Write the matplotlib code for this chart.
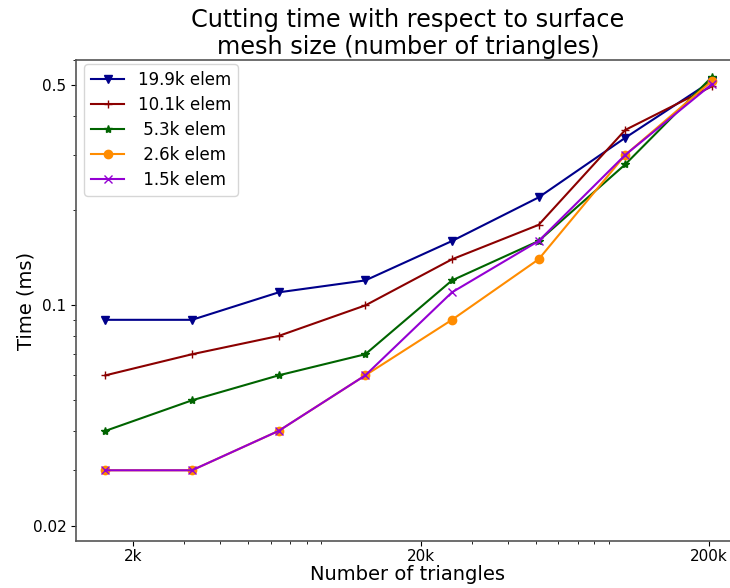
import matplotlib
matplotlib.use("Agg")
import matplotlib.pyplot as plt
from matplotlib.ticker import FixedLocator, FixedFormatter, NullFormatter

triangles = [1600, 3200, 6400, 12800, 25600, 51200, 102400, 204800]
labels = ["19.9k elem", "10.1k elem", " 5.3k elem", " 2.6k elem", " 1.5k elem"]
t_19_9k = [0.090, 0.090, 0.110, 0.120, 0.160, 0.220, 0.340, 0.515]
t_10_1k = [0.060, 0.070, 0.080, 0.100, 0.140, 0.180, 0.360, 0.495]
t_5_3k = [0.040, 0.050, 0.060, 0.070, 0.120, 0.160, 0.280, 0.530]
t_2_6k = [0.030, 0.030, 0.040, 0.060, 0.090, 0.140, 0.300, 0.515]
t_1_5k = [0.030, 0.030, 0.040, 0.060, 0.110, 0.160, 0.300, 0.503]
x_ticks = [2000, 20000, 200000]
x_ticklabels = ["2k", "20k", "200k"]
y_ticks = [0.02, 0.1, 0.5]
y_ticklabels = ["0.02", "0.1", "0.5"]

series = [t_19_9k, t_10_1k, t_5_3k, t_2_6k, t_1_5k]
colors = ["#00008B", "#8B0000", "#006400", "#FF8C00", "#9400D3"]
markers = ["v", "+", "*", "o", "x"]

fig = plt.figure(figsize=(7.30, 5.88), dpi=100)
ax = fig.add_axes([76 / 730, 47 / 588, 664 / 730, 481 / 588])

for vals, lab, c, m in zip(series, labels, colors, markers):
    ax.plot(triangles, vals, color=c, marker=m, label=lab, linewidth=1.5, markersize=6)

ax.set_xscale("log")
ax.set_yscale("log")
ax.set_xlim(10 ** 3.102, 10 ** 5.409)
ax.set_ylim(0.0179, 0.600)

ax.xaxis.set_major_locator(FixedLocator(x_ticks))
ax.xaxis.set_major_formatter(FixedFormatter(x_ticklabels))
ax.xaxis.set_minor_formatter(NullFormatter())
ax.yaxis.set_major_locator(FixedLocator(y_ticks))
ax.yaxis.set_major_formatter(FixedFormatter(y_ticklabels))
ax.yaxis.set_minor_formatter(NullFormatter())
ax.tick_params(axis="both", which="major", labelsize=11)
ax.tick_params(axis="x", which="major", pad=2)

for s in ["left", "bottom", "top", "right"]:
    ax.spines[s].set_color("#555555")
    ax.spines[s].set_linewidth(1.2)

ax.set_xlabel("Number of triangles", fontsize=14, labelpad=1)
ax.set_ylabel("Time (ms)", fontsize=14, labelpad=-2)
ax.set_title("Cutting time with respect to surface\nmesh size (number of triangles)",
             fontsize=17.3, pad=4)

ax.legend(loc="upper left", fontsize=12, labelspacing=0.42, borderpad=0.4,
          borderaxespad=0.5, bbox_to_anchor=(0.0, 1.008))

fig.savefig("out.png", dpi=100)
